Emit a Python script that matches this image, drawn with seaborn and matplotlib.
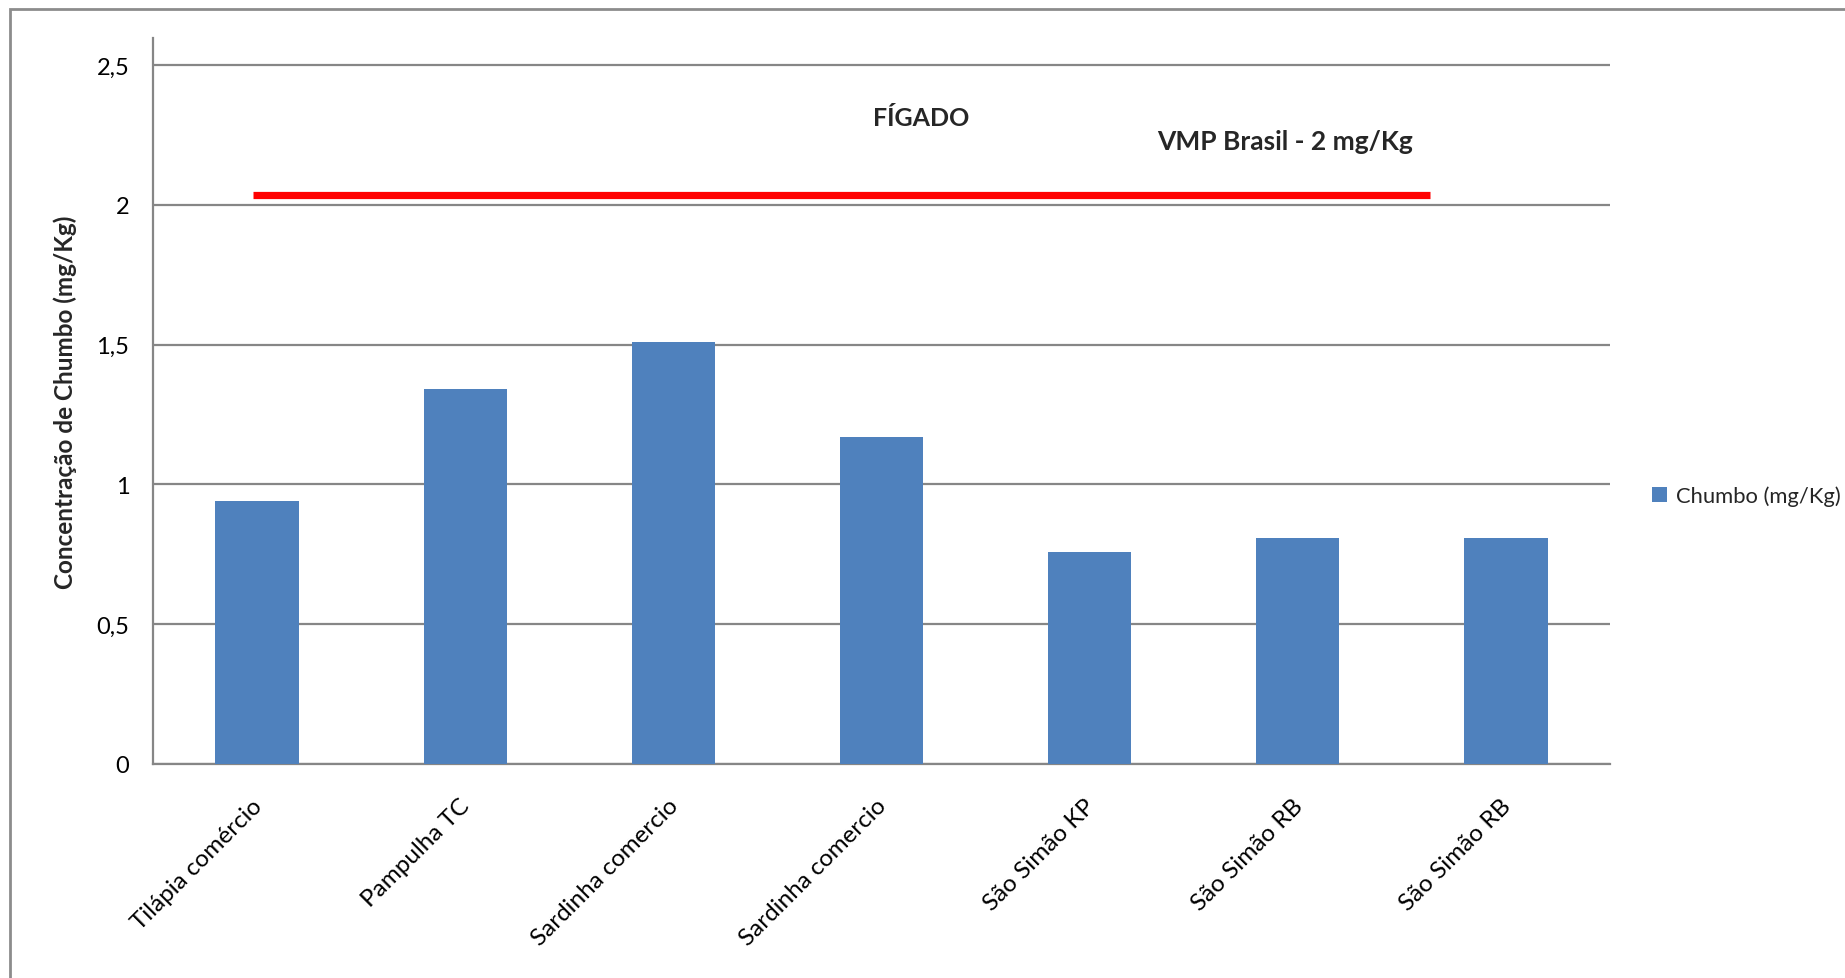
import matplotlib
matplotlib.use("Agg")
import matplotlib.pyplot as plt
import matplotlib.transforms as mtransforms
from matplotlib.patches import Rectangle
import seaborn as sns
import pandas as pd

# Sample sites (labels repeat, so bars are keyed by position)
sites = ["Tilápia comércio", "Pampulha TC", "Sardinha comercio", "Sardinha comercio",
         "São Simão KP", "São Simão RB", "São Simão RB"]
lead = [0.94, 1.34, 1.51, 1.17, 0.76, 0.81, 0.81]
vmp_limit = 2.0
y_ticks = [0, 0.5, 1, 1.5, 2, 2.5]
y_tick_labels = ["0", "0,5", "1", "1,5", "2", "2,5"]

df = pd.DataFrame({"pos": list(range(len(sites))), "lead": lead})

sns.set_theme(style="white")
plt.rcParams["font.family"] = ["Lato", "DejaVu Sans"]

W, H, DPI = 1845, 979, 100
fig = plt.figure(figsize=(W / DPI, H / DPI), dpi=DPI)
ax = fig.add_axes([153 / W, 1 - 765 / H, (1610 - 153) / W, (765 - 39) / H])

grid_c = "#868686"
sns.barplot(data=df, x="pos", y="lead", color="#4F81BD", saturation=1,
            width=0.40, linewidth=0, label="Chumbo (mg/Kg)", ax=ax, zorder=3)

ax.set_xlim(-0.5, len(sites) - 0.5)
ax.set_ylim(0, 2.5 * (765 - 39) / (765 - 66))
ax.set_yticks(y_ticks, y_tick_labels)
ax.set_xticks(range(len(sites)))
ax.set_xticklabels(sites, rotation=45, ha="right", va="top",
                   rotation_mode="anchor")
ax.tick_params(axis="x", length=0, pad=22, labelsize=17.5, colors="black")
ax.tick_params(axis="y", length=0, pad=17, labelsize=17, colors="black")
# nudge the slanted category labels slightly left
nudge = mtransforms.ScaledTranslation(-6 / DPI, 0, fig.dpi_scale_trans)
for lbl in ax.get_xticklabels():
    lbl.set_transform(lbl.get_transform() + nudge)

ax.yaxis.grid(True, color=grid_c, linewidth=1.6, zorder=0)
ax.set_axisbelow(True)
for side in ("top", "right"):
    ax.spines[side].set_visible(False)
for side in ("left", "bottom"):
    ax.spines[side].set_color(grid_c)
    ax.spines[side].set_linewidth(1.6)

ax.set_xlabel("")
ax.set_ylabel("Concentração de Chumbo (mg/Kg)", fontsize=17.5,
              fontweight="bold")
ax.yaxis.set_label_coords(-0.052, 0.50)

# Brazilian maximum permitted value (drawn just above its gridline)
lift = mtransforms.offset_copy(ax.transData, fig=fig, x=0, y=9.5, units="dots")
ax.plot([-0.02, 5.636], [vmp_limit, vmp_limit], color="#FF0000",
        linewidth=5.2, solid_capstyle="butt", transform=lift, zorder=4)

ax.text(3.19, 2.314, "FÍGADO", ha="center", va="center",
        fontsize=18, fontweight="bold")
ax.text(4.94, 2.228, "VMP Brasil - 2 mg/Kg", ha="center", va="center",
        fontsize=19, fontweight="bold")

leg = ax.legend(loc="center left", bbox_to_anchor=(1652 / W, 1 - 497 / H),
                bbox_transform=fig.transFigure, frameon=False, fontsize=15.8,
                handlelength=0.7, handleheight=0.7, handletextpad=0.4,
                borderpad=0, borderaxespad=0)

# Chart area border
fig.patches.append(Rectangle((10 / W, -0.2), 1.5, 1.2 - 10 / H,
                             transform=fig.transFigure, fill=False,
                             edgecolor="#8C8C8C", linewidth=2.0))

fig.savefig("out.png", dpi=DPI, facecolor="white")
